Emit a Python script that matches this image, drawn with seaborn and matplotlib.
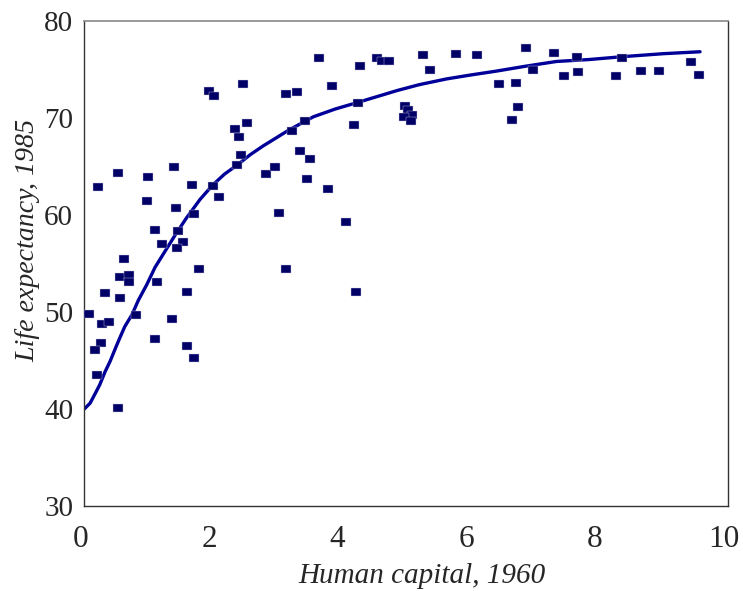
import numpy as np
import pandas as pd
import matplotlib
matplotlib.use('Agg')
import matplotlib.pyplot as plt
from matplotlib.ticker import MultipleLocator
from matplotlib.path import Path
from matplotlib.transforms import ScaledTranslation
import seaborn as sns

# Scatter: human capital 1960 vs life expectancy 1985
human_capital = [
    0.22, 0.53, 0.99, 1.39, 0.97, 1.43, 1.68, 2.00, 2.09, 1.70,
    1.10, 1.46, 1.20, 1.54, 1.44, 0.62, 1.78, 3.13, 1.94, 2.01,
    2.46, 3.14, 2.53, 2.34, 2.40, 2.44, 2.38, 2.82, 2.97, 3.03,
    0.55, 0.70, 0.69, 1.13, 0.32, 0.55, 1.59, 0.07, 0.80, 1.36,
    0.27, 0.39, 0.26, 0.17, 1.10, 1.59, 1.70, 0.20, 0.53,
    3.64, 4.55, 4.62, 4.74, 5.27, 5.78, 6.11, 5.37, 4.29, 3.85,
    3.31, 4.26, 3.43, 3.23, 4.19, 4.99, 5.03, 5.09, 4.97, 5.08,
    3.35, 3.50, 3.46, 3.78, 4.07, 4.22, 6.45,
    6.87, 7.30, 7.65, 8.36, 9.43, 6.71, 6.98, 7.46, 7.67, 8.27,
    8.66, 8.94, 9.55, 6.74, 6.65,
]
life_expectancy = [
    62.9, 64.3, 63.9, 64.9, 61.4, 60.7, 63.1, 63.0, 61.8, 60.1,
    58.4, 58.3, 57.0, 57.2, 56.6, 55.4, 54.4, 54.4, 72.8, 72.2,
    73.5, 72.4, 69.5, 68.8, 68.0, 66.2, 65.1, 64.2, 64.9, 60.2,
    53.6, 53.8, 53.1, 53.1, 51.9, 51.4, 52.0, 49.8, 49.7, 49.3,
    48.8, 49.0, 46.8, 46.1, 47.2, 46.5, 45.3, 43.5, 40.1,
    76.2, 76.2, 75.8, 75.8, 76.5, 76.6, 76.5, 74.9, 75.3, 73.3,
    72.7, 71.5, 69.7, 68.6, 69.3, 71.2, 70.8, 70.3, 70.1, 69.7,
    66.6, 65.8, 63.7, 62.7, 59.3, 52.0, 73.5,
    77.2, 76.7, 76.3, 76.2, 75.7, 73.6, 74.9, 74.3, 74.7, 74.3,
    74.8, 74.8, 74.4, 71.1, 69.8,
]

# Fitted curve, points
curve_x = [0.00, 0.09, 0.17, 0.24, 0.32, 0.40, 0.48, 0.55, 0.63, 0.74,
           0.84, 0.97, 1.10, 1.25, 1.42, 1.59, 1.80, 2.00, 2.18, 2.37,
           2.58, 2.78, 3.00, 3.17, 3.56, 3.90, 4.26, 4.86, 5.20, 5.63,
           6.00, 6.40, 6.85, 7.34, 7.85, 8.38, 9.00, 9.57]
curve_y = [40.0, 40.6, 41.6, 42.5, 43.8, 44.9, 46.2, 47.3, 48.5, 49.7,
           51.2, 52.8, 54.6, 56.2, 58.0, 59.7, 61.6, 63.1, 64.2, 65.1,
           66.2, 67.1, 68.0, 68.7, 70.1, 70.9, 71.6, 72.8, 73.4, 74.0,
           74.4, 74.8, 75.3, 75.8, 76.0, 76.3, 76.6, 76.8]

pts = pd.DataFrame({'hc': human_capital, 'le': life_expectancy})
fit = pd.DataFrame({'hc': curve_x, 'le': curve_y})

sns.set_style('white')
plt.rcParams['font.family'] = ['Liberation Serif', 'DejaVu Serif']

fig = plt.figure(figsize=(7.43, 5.91), dpi=100)
ax = fig.add_axes([0.1135, 0.1438, 0.8659, 0.8212])

# flat rectangular marker like the original
rect = Path([(-1.45, -1.0), (1.45, -1.0), (1.45, 1.0), (-1.45, 1.0), (-1.45, -1.0)],
            [Path.MOVETO, Path.LINETO, Path.LINETO, Path.LINETO, Path.CLOSEPOLY])

sns.lineplot(data=fit, x='hc', y='le', ax=ax, color='#000099', linewidth=2.4,
             sort=False, estimator=None, zorder=2)
sns.scatterplot(data=pts, x='hc', y='le', ax=ax, marker=rect, s=55,
                color='#000066', linewidth=0.3, edgecolor='#c8c8e0', zorder=3)

ax.set_xlim(0, 10)
ax.set_ylim(30, 80)
ax.xaxis.set_major_locator(MultipleLocator(2))
ax.xaxis.set_minor_locator(MultipleLocator(1))
ax.yaxis.set_major_locator(MultipleLocator(10))
ax.yaxis.set_minor_locator(MultipleLocator(5))
ax.tick_params(which='major', direction='in', length=7, width=1.0,
               color='#333333', top=False, right=False)
ax.tick_params(which='minor', direction='in', length=4.5, width=1.0,
               color='#333333', top=False, right=False)
ax.tick_params(axis='x', pad=14, labelsize=22.5)
ax.tick_params(axis='y', pad=8, labelsize=21)

# x tick labels sit a little left of their ticks in the original
shift = ScaledTranslation(-4 / 100, 0, fig.dpi_scale_trans)
for lab in ax.get_xticklabels():
    lab.set_transform(lab.get_transform() + shift)

for side in ['left', 'bottom', 'right']:
    ax.spines[side].set_color('#333333')
    ax.spines[side].set_linewidth(1.0)
ax.spines['top'].set_color('#888888')
ax.spines['top'].set_linewidth(1.2)

ax.set_xlabel('Human capital, 1960', fontsize=21, style='italic')
ax.set_ylabel('Life expectancy, 1985', fontsize=20.2, style='italic')
ax.xaxis.set_label_coords(0.525, -0.117)
ax.yaxis.set_label_coords(-0.069, 0.548)

fig.savefig('out.png', dpi=100)
